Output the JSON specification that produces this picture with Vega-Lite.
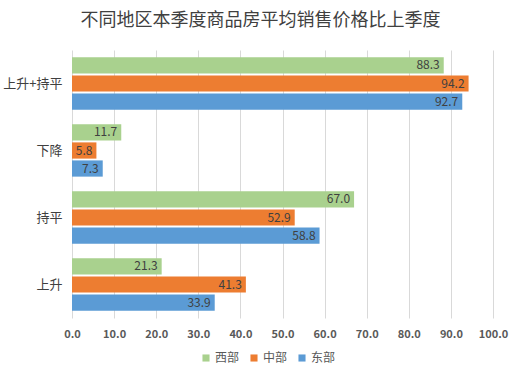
{
  "$schema": "https://vega.github.io/schema/vega-lite/v6.json",
  "autosize": {"type": "none"},
  "width": 421,
  "height": 268,
  "padding": {"left": 72, "top": 50, "right": 39, "bottom": 62},
  "background": "white",
  "title": {
    "text": "不同地区本季度商品房平均销售价格比上季度",
    "font": "Noto Sans CJK SC",
    "fontSize": 18,
    "fontWeight": "normal",
    "color": "#404040",
    "anchor": "middle",
    "offset": 20,
    "dx": -22
  },
  "data": {
    "values": [
      {"cat": "上升+持平", "region": "西部", "value": 88.3},
      {"cat": "上升+持平", "region": "中部", "value": 94.2},
      {"cat": "上升+持平", "region": "东部", "value": 92.7},
      {"cat": "下降", "region": "西部", "value": 11.7},
      {"cat": "下降", "region": "中部", "value": 5.8},
      {"cat": "下降", "region": "东部", "value": 7.3},
      {"cat": "持平", "region": "西部", "value": 67.0},
      {"cat": "持平", "region": "中部", "value": 52.9},
      {"cat": "持平", "region": "东部", "value": 58.8},
      {"cat": "上升", "region": "西部", "value": 21.3},
      {"cat": "上升", "region": "中部", "value": 41.3},
      {"cat": "上升", "region": "东部", "value": 33.9}
    ]
  },
  "encoding": {
    "y": {
      "field": "cat", "type": "nominal",
      "sort": ["上升+持平", "下降", "持平", "上升"],
      "scale": {"paddingInner": 0.22, "paddingOuter": 0.11},
      "axis": {
        "title": null, "domain": false, "ticks": false, "labelPadding": 10,
        "labelFont": "Noto Sans CJK SC", "labelFontSize": 13, "labelFontWeight": "normal", "labelColor": "#404040"
      }
    },
    "yOffset": {
      "field": "region", "type": "nominal",
      "sort": ["西部", "中部", "东部"],
      "scale": {"paddingInner": 0.1}
    },
    "x": {
      "field": "value", "type": "quantitative",
      "scale": {"domain": [0, 100], "nice": false},
      "axis": {
        "title": null, "domain": false, "ticks": false, "values": [0,10,20,30,40,50,60,70,80,90,100],
        "format": ".1f", "gridColor": "#d9d9d9", "labelPadding": 10, "labelFlush": false, "labelOverlap": false,
        "labelFont": "Noto Sans CJK SC", "labelFontSize": 11, "labelFontWeight": "bold", "labelColor": "#595959"
      }
    }
  },
  "layer": [
    {
      "mark": {"type": "bar"},
      "encoding": {
        "color": {
          "field": "region", "type": "nominal",
          "scale": {"domain": ["西部", "中部", "东部"], "range": ["#A9D18E", "#ED7D31", "#5B9BD5"]},
          "legend": {
            "title": null, "orient": "none", "direction": "horizontal",
            "legendX": 128, "legendY": 302,
            "symbolType": "square", "symbolSize": 50, "symbolStrokeWidth": 0,
            "labelFont": "Noto Sans CJK SC", "labelFontSize": 12, "labelColor": "#595959",
            "columnPadding": 8, "labelOffset": 3
          }
        }
      }
    },
    {
      "mark": {"type": "text", "align": "right", "dx": -4, "font": "Noto Sans CJK SC", "fontSize": 12, "color": "#404040"},
      "encoding": {
        "text": {"field": "value", "type": "quantitative", "format": ".1f"}
      }
    }
  ],
  "config": {"view": {"stroke": null}}
}
